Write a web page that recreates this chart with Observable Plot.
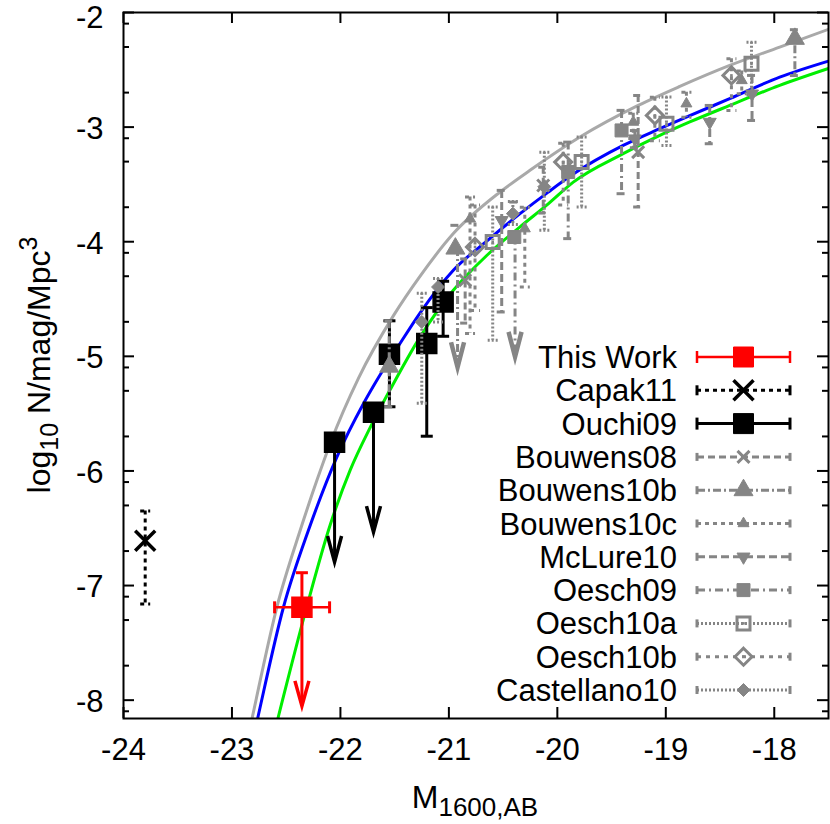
<!DOCTYPE html>
<html><head><meta charset="utf-8">
<script src="https://cdn.jsdelivr.net/npm/d3@7"></script>
<script src="https://cdn.jsdelivr.net/npm/@observablehq/plot@0.6"></script>
<style>
body{margin:0;background:#fff}
svg{font-family:"Liberation Sans",Arial,Helvetica,sans-serif}
</style>
</head><body><div id="chart"></div>
<script>
// ---------- axis ticks ----------
const xTicks = [-24,-23,-22,-21,-20,-19,-18];
const yTicks = [-8,-7,-6,-5,-4,-3];
const yTopTick = [-2];
const yMinorTicks = [-8.097,-7.699,-7.301,-7.097,-6.699,-6.301,-6.097,-5.699,-5.301,-5.097,-4.699,-4.301,-4.097,-3.699,-3.301,-3.097,-2.699,-2.301,-2.097];

// ---------- fitted LF curves [M, log10 N] ----------
const grayCurve = [[-22.87,-8.40],[-22.815,-8.16],[-22.585,-7.185],[-22.37,-6.516],[-22.216,-6.08],[-22.094,-5.76],[-21.833,-5.19],[-21.511,-4.645],[-21.265,-4.30],[-20.959,-3.929],[-20.529,-3.567],[-20.252,-3.377],[-19.792,-3.087],[-19.255,-2.811],[-18.871,-2.645],[-18.411,-2.462],[-17.95,-2.302],[-17.48,-2.14]];
const blueCurve = [[-22.82,-8.40],[-22.763,-8.158],[-22.524,-7.185],[-22.294,-6.516],[-22.032,-5.877],[-21.787,-5.411],[-21.664,-5.208],[-21.48,-4.932],[-21.265,-4.62],[-20.959,-4.249],[-20.651,-3.995],[-20.344,-3.755],[-20.084,-3.567],[-19.853,-3.41],[-19.393,-3.160],[-19.055,-3.014],[-18.779,-2.90],[-18.411,-2.752],[-17.95,-2.564],[-17.48,-2.418]];
const greenCurve = [[-22.64,-8.40],[-22.576,-8.158],[-22.303,-7.16],[-22.094,-6.47],[-21.91,-5.993],[-21.725,-5.62],[-21.541,-5.29],[-21.265,-4.83],[-20.959,-4.424],[-20.651,-4.12],[-20.344,-3.87],[-20.084,-3.67],[-19.853,-3.48],[-19.393,-3.232],[-19.055,-3.072],[-18.779,-2.955],[-18.411,-2.811],[-17.95,-2.636],[-17.48,-2.482]];

// ---------- data points ----------
const thisWork = [{M:-22.355, logN:-7.19, hi:-6.888, tip:-8.05, Mlo:-22.607, Mhi:-22.10}];
const capak11 = [{M:-23.80, logN:-6.61, hi:-6.35, lo:-7.16}];
const ouchi09 = [{M:-21.548, logN:-4.982, hi:-4.69, lo:-5.44},{M:-21.204, logN:-4.888, hi:-4.575, lo:-5.697},{M:-21.053, logN:-4.526, hi:-4.345, lo:-4.825}];
const ouchi09Limits = [{M:-22.054, logN:-5.749, tip:-6.795},{M:-21.695, logN:-5.487, tip:-6.534}];
const bouwens08 = [{M:-20.85, logN:-4.336, hi:-4.15, lo:-4.71},{M:-20.13, logN:-3.51, hi:-3.35, lo:-3.75},{M:-19.255, logN:-3.218, hi:-2.724, lo:-3.697}];
const bouwens10b = [{M:-21.55, logN:-5.09, hi:-4.69, lo:-5.44},{M:-20.94, logN:-4.06, hi:-3.857},{M:-17.81, logN:-2.23, hi:-2.15, lo:-2.55}];
const bouwens10bLimits = [{M:-20.92, logN:-4.06, tip:-5.095}];
const bouwens10c = [{M:-20.805, logN:-3.80, hi:-3.61, lo:-4.80},{M:-20.30, logN:-3.886, hi:-3.70, lo:-4.395},{M:-19.30, logN:-2.956, hi:-2.88, lo:-3.10},{M:-18.81, logN:-2.796, hi:-2.695, lo:-2.913},{M:-18.30, logN:-2.593, hi:-2.51, lo:-2.71}];
const mclure10 = [{M:-20.513, logN:-3.813, hi:-3.552, lo:-4.613},{M:-19.285, logN:-3.101, hi:-3.03, lo:-3.18},{M:-18.595, logN:-2.956, hi:-2.811, lo:-3.145},{M:-18.205, logN:-2.709, hi:-2.549, lo:-2.942}];
const oesch09 = [{M:-20.397, logN:-3.959, hi:-3.654},{M:-19.90, logN:-3.392, hi:-3.131, lo:-3.973},{M:-19.408, logN:-3.029, hi:-2.854, lo:-3.581}];
const oesch09Limits = [{M:-20.39, logN:-3.959, tip:-5.005}];
const oesch10a = [{M:-20.596, logN:-4.003, hi:-3.697, lo:-4.86},{M:-19.776, logN:-3.305, hi:-3.087, lo:-3.697},{M:-18.994, logN:-2.970, hi:-2.738, lo:-3.16},{M:-18.21, logN:-2.447, hi:-2.259, lo:-2.72}];
const oesch10b = [{M:-20.759, logN:-4.046, hi:-3.68, lo:-4.60},{M:-19.946, logN:-3.305, hi:-3.14, lo:-3.68},{M:-19.101, logN:-2.898, hi:-2.74, lo:-3.12},{M:-18.395, logN:-2.549, hi:-2.404, lo:-2.854}];
const castellano10 = [{M:-21.25, logN:-4.70, hi:-4.45, lo:-5.41},{M:-21.10, logN:-4.395, hi:-4.32, lo:-4.70},{M:-20.41, logN:-3.755, hi:-3.65, lo:-3.85},{M:-20.12, logN:-3.52, hi:-3.22, lo:-3.90}];

const legendNames = ["This Work","Capak11","Ouchi09","Bouwens08","Bouwens10b","Bouwens10c","McLure10","Oesch09","Oesch10a","Oesch10b","Castellano10"];

// ---------- symbols ----------
const capH = w => ({draw(c){c.moveTo(-w,0);c.lineTo(w,0);}});
const capV = w => ({draw(c){c.moveTo(0,-w);c.lineTo(0,w);}});
const chevron = (w,L) => ({draw(c){c.moveTo(-w,-L);c.lineTo(0,0);c.lineTo(w,-L);}});
const squareS = h => ({draw(c){c.rect(-h,-h,2*h,2*h);}});
const triUp = h => ({draw(c){c.moveTo(0,-1.155*h);c.lineTo(h,0.577*h);c.lineTo(-h,0.577*h);c.closePath();}});
const triDown = h => ({draw(c){c.moveTo(0,1.155*h);c.lineTo(h,-0.577*h);c.lineTo(-h,-0.577*h);c.closePath();}});
const diamondS = h => ({draw(c){c.moveTo(0,-h);c.lineTo(h,0);c.lineTo(0,h);c.lineTo(-h,0);c.closePath();}});
const timesS = h => ({draw(c){c.moveTo(-h,-h);c.lineTo(h,h);c.moveTo(h,-h);c.lineTo(-h,h);}});
const dotS = h => ({draw(c){c.rect(-h,-h,2*h,2*h);}});

const GRAY = "#858585";
const styles = {
  "This Work":   {stroke:"#ff0000", sw:2.5, dash:null, sym:squareS(10), fill:"#ff0000", msw:1, cap:6},
  "Capak11":     {stroke:"#000", sw:3, dash:"4,4", sym:timesS(10), fill:"none", msw:3.5, cap:5},
  "Ouchi09":     {stroke:"#000", sw:3, dash:null, sym:squareS(10), fill:"#000", msw:1, cap:6},
  "Bouwens08":   {stroke:GRAY, sw:3, dash:"7,4", sym:timesS(6), fill:"none", msw:3, cap:4},
  "Bouwens10b":  {stroke:GRAY, sw:3, dash:"8,3,2,3", sym:triUp(9.5), fill:GRAY, msw:1, cap:4},
  "Bouwens10c":  {stroke:GRAY, sw:3, dash:"4,4", sym:triUp(5.5), fill:GRAY, msw:1, cap:4},
  "McLure10":    {stroke:GRAY, sw:3, dash:"8,4", sym:triDown(6.5), fill:GRAY, msw:1, cap:4},
  "Oesch09":     {stroke:GRAY, sw:3, dash:"8,4,2,4", sym:squareS(6.5), fill:GRAY, msw:1, cap:4},
  "Oesch10a":    {stroke:GRAY, sw:3, dash:"2,2", sym:squareS(6.5), fill:"none", msw:3, cap:4, center:true},
  "Oesch10b":    {stroke:GRAY, sw:3, dash:"4,5", sym:diamondS(8.5), fill:"none", msw:3, cap:4, center:true},
  "Castellano10":{stroke:GRAY, sw:3, dash:"2,2", sym:diamondS(6.5), fill:GRAY, msw:1, cap:4}
};

function errMarks(data, st, capW) {
  return [
    Plot.ruleX(data, {x:"M", y1:"hi", y2:"lo", stroke:st.stroke, strokeWidth:st.sw, strokeDasharray:st.dash}),
    Plot.dot(data, {x:"M", y:"hi", symbol:capH(capW), fill:"none", stroke:st.stroke, strokeWidth:st.sw, strokeDasharray:st.dash}),
    Plot.dot(data.filter(d => d.lo !== undefined), {x:"M", y:"lo", symbol:capH(capW), fill:"none", stroke:st.stroke, strokeWidth:st.sw, strokeDasharray:st.dash})
  ];
}
function pointMarks(data, st) {
  const m = [Plot.dot(data, {x:"M", y:"logN", symbol:st.sym, fill:st.fill, stroke:st.stroke, strokeWidth:st.msw})];
  if (st.center) m.push(Plot.dot(data, {x:"M", y:"logN", symbol:dotS(1.3), fill:st.stroke, stroke:"none"}));
  return m;
}
function limitMarks(data, st, w, L, hw) {
  return [
    Plot.ruleX(data, {x:"M", y1:"logN", y2:"tip", stroke:st.stroke, strokeWidth:st.sw, strokeDasharray:st.dash}),
    Plot.dot(data, {x:"M", y:"tip", symbol:chevron(w,L), fill:"none", stroke:st.stroke, strokeWidth:hw, strokeLinejoin:"miter"})
  ];
}
function graySeries(data, name, limits) {
  const st = styles[name];
  return [...errMarks(data, st, 5), ...(limits ? limitMarks(limits, st, 6.5, 25, 4.5) : []), ...pointMarks(data, st)];
}

const W = 830, H = 824, ML = 123, MR = 2, MT = 12, MB = 106;
const PW = W - ML - MR, PH = H - MT - MB;

const stTW = styles["This Work"], stC = styles["Capak11"], stO = styles["Ouchi09"];
const allY = [...yTicks, ...yTopTick];

const plot = Plot.plot({
  width: W, height: H,
  marginLeft: ML, marginRight: MR, marginTop: MT, marginBottom: MB,
  style: {fontFamily: "'Liberation Sans', Arial, Helvetica, sans-serif", fontSize: "30px", background: "#fff", color: "#000"},
  x: {domain: [-24, -17.5]},
  y: {domain: [-8.16, -2]},
  marks: [
    // fitted curves
    Plot.line(grayCurve, {x: d => d[0], y: d => d[1], stroke: "#a9a9a9", strokeWidth: 3, curve: "monotone-x", clip: true}),
    Plot.line(blueCurve, {x: d => d[0], y: d => d[1], stroke: "#0000ff", strokeWidth: 3, curve: "monotone-x", clip: true}),
    Plot.line(greenCurve, {x: d => d[0], y: d => d[1], stroke: "#00ee00", strokeWidth: 3, curve: "monotone-x", clip: true}),
    // This Work
    Plot.ruleY(thisWork, {y:"logN", x1:"Mlo", x2:"Mhi", stroke:stTW.stroke, strokeWidth:stTW.sw}),
    Plot.dot(thisWork, {x:"Mlo", y:"logN", symbol:capV(6), fill:"none", stroke:stTW.stroke, strokeWidth:stTW.sw+0.5}),
    Plot.dot(thisWork, {x:"Mhi", y:"logN", symbol:capV(6), fill:"none", stroke:stTW.stroke, strokeWidth:stTW.sw+0.5}),
    Plot.ruleX(thisWork, {x:"M", y1:"hi", y2:"tip", stroke:stTW.stroke, strokeWidth:stTW.sw+0.5}),
    Plot.dot(thisWork, {x:"M", y:"hi", symbol:capH(6), fill:"none", stroke:stTW.stroke, strokeWidth:stTW.sw+0.5}),
    Plot.dot(thisWork, {x:"M", y:"tip", symbol:chevron(7,25), fill:"none", stroke:stTW.stroke, strokeWidth:3.5, strokeLinejoin:"miter"}),
    Plot.dot(thisWork, {x:"M", y:"logN", symbol:stTW.sym, fill:stTW.fill, stroke:stTW.stroke}),
    // Capak11
    ...errMarks(capak11, stC, 5),
    Plot.dot(capak11, {x:"M", y:"logN", symbol:stC.sym, fill:"none", stroke:"#000", strokeWidth:stC.msw}),
    // Ouchi09
    ...errMarks(ouchi09, stO, 6),
    ...limitMarks(ouchi09Limits, {stroke:"#000", sw:3, dash:null}, 7, 26, 3.5),
    Plot.dot(ouchi09, {x:"M", y:"logN", symbol:stO.sym, fill:"#000", stroke:"#000"}),
    Plot.dot(ouchi09Limits, {x:"M", y:"logN", symbol:stO.sym, fill:"#000", stroke:"#000"}),
    // literature (gray)
    ...graySeries(bouwens08, "Bouwens08"),
    ...graySeries(bouwens10b, "Bouwens10b", bouwens10bLimits),
    ...graySeries(bouwens10c, "Bouwens10c"),
    ...graySeries(mclure10, "McLure10"),
    ...graySeries(oesch09, "Oesch09", oesch09Limits),
    ...graySeries(oesch10a, "Oesch10a"),
    ...graySeries(oesch10b, "Oesch10b"),
    ...graySeries(castellano10, "Castellano10"),
    // axes: labels
    Plot.axisX({ticks: xTicks, tickSize: 0, tickPadding: 19, tickFormat: d => String(d), fontSize: 31, label: null}),
    Plot.axisY({ticks: yTicks, tickSize: 0, tickPadding: 20, tickFormat: d => String(d), fontSize: 31, label: null, dy: 2}),
    Plot.axisY({ticks: yTopTick, tickSize: 0, tickPadding: 20, tickFormat: d => String(d), fontSize: 31, label: null, dy: 6}),
    // inward ticks (mirrored)
    Plot.ruleX(xTicks, {x: d => d, insetTop: PH - 11, stroke: "#000", strokeWidth: 2}),
    Plot.ruleX(xTicks, {x: d => d, insetBottom: PH - 11, stroke: "#000", strokeWidth: 2}),
    Plot.ruleY(allY, {y: d => d, insetRight: PW - 11, stroke: "#000", strokeWidth: 2}),
    Plot.ruleY(allY, {y: d => d, insetLeft: PW - 11, stroke: "#000", strokeWidth: 2}),
    Plot.ruleY(yMinorTicks, {y: d => d, insetRight: PW - 6, stroke: "#000", strokeWidth: 2}),
    Plot.ruleY(yMinorTicks, {y: d => d, insetLeft: PW - 6, stroke: "#000", strokeWidth: 2}),
    Plot.frame({stroke: "#000", strokeWidth: 2})
  ]
});

document.getElementById("chart").appendChild(plot);

// ---------- legend and axis titles ----------
const svg = d3.select(plot);
const lg = svg.append("g").attr("class", "legend");
const LX0 = 697, LX1 = 790, LXM = 743.5, LXT = 677, LY0 = 357, LDY = 33.3;
legendNames.forEach((name, i) => {
  const st = styles[name];
  const y = LY0 + i * LDY;
  lg.append("text").attr("x", LXT).attr("y", y + 11).attr("text-anchor", "end")
    .attr("font-size", 31).attr("fill", "#000").text(name);
  lg.append("line").attr("x1", LX0).attr("x2", LX1).attr("y1", y).attr("y2", y)
    .attr("stroke", st.stroke).attr("stroke-width", st.sw).attr("stroke-dasharray", st.dash);
  [LX0, LX1].forEach(x => lg.append("line").attr("x1", x).attr("x2", x)
    .attr("y1", y - st.cap).attr("y2", y + st.cap).attr("stroke", st.stroke).attr("stroke-width", st.sw));
  const p = d3.path(); st.sym.draw(p, 0);
  lg.append("path").attr("transform", `translate(${LXM},${y})`).attr("d", p.toString())
    .attr("fill", st.fill).attr("stroke", st.stroke).attr("stroke-width", st.msw);
  if (st.center) {
    const q = d3.path(); dotS(1.3).draw(q, 0);
    lg.append("path").attr("transform", `translate(${LXM},${y})`).attr("d", q.toString()).attr("fill", st.stroke);
  }
});

const yl = svg.append("text").attr("transform", "translate(50,365) rotate(-90)")
  .attr("text-anchor", "middle").attr("font-size", 32).attr("fill", "#000");
yl.append("tspan").text("log");
yl.append("tspan").attr("font-size", 25).attr("dy", 8).text("10");
yl.append("tspan").attr("dy", -8).text(" N/mag/Mpc");
yl.append("tspan").attr("font-size", 25).attr("dy", -13).text("3");

const xl = svg.append("text").attr("x", 475).attr("y", 808)
  .attr("text-anchor", "middle").attr("font-size", 32).attr("fill", "#000");
xl.append("tspan").text("M");
xl.append("tspan").attr("font-size", 26).attr("dy", 8).text("1600,AB");
</script>
</body></html>
